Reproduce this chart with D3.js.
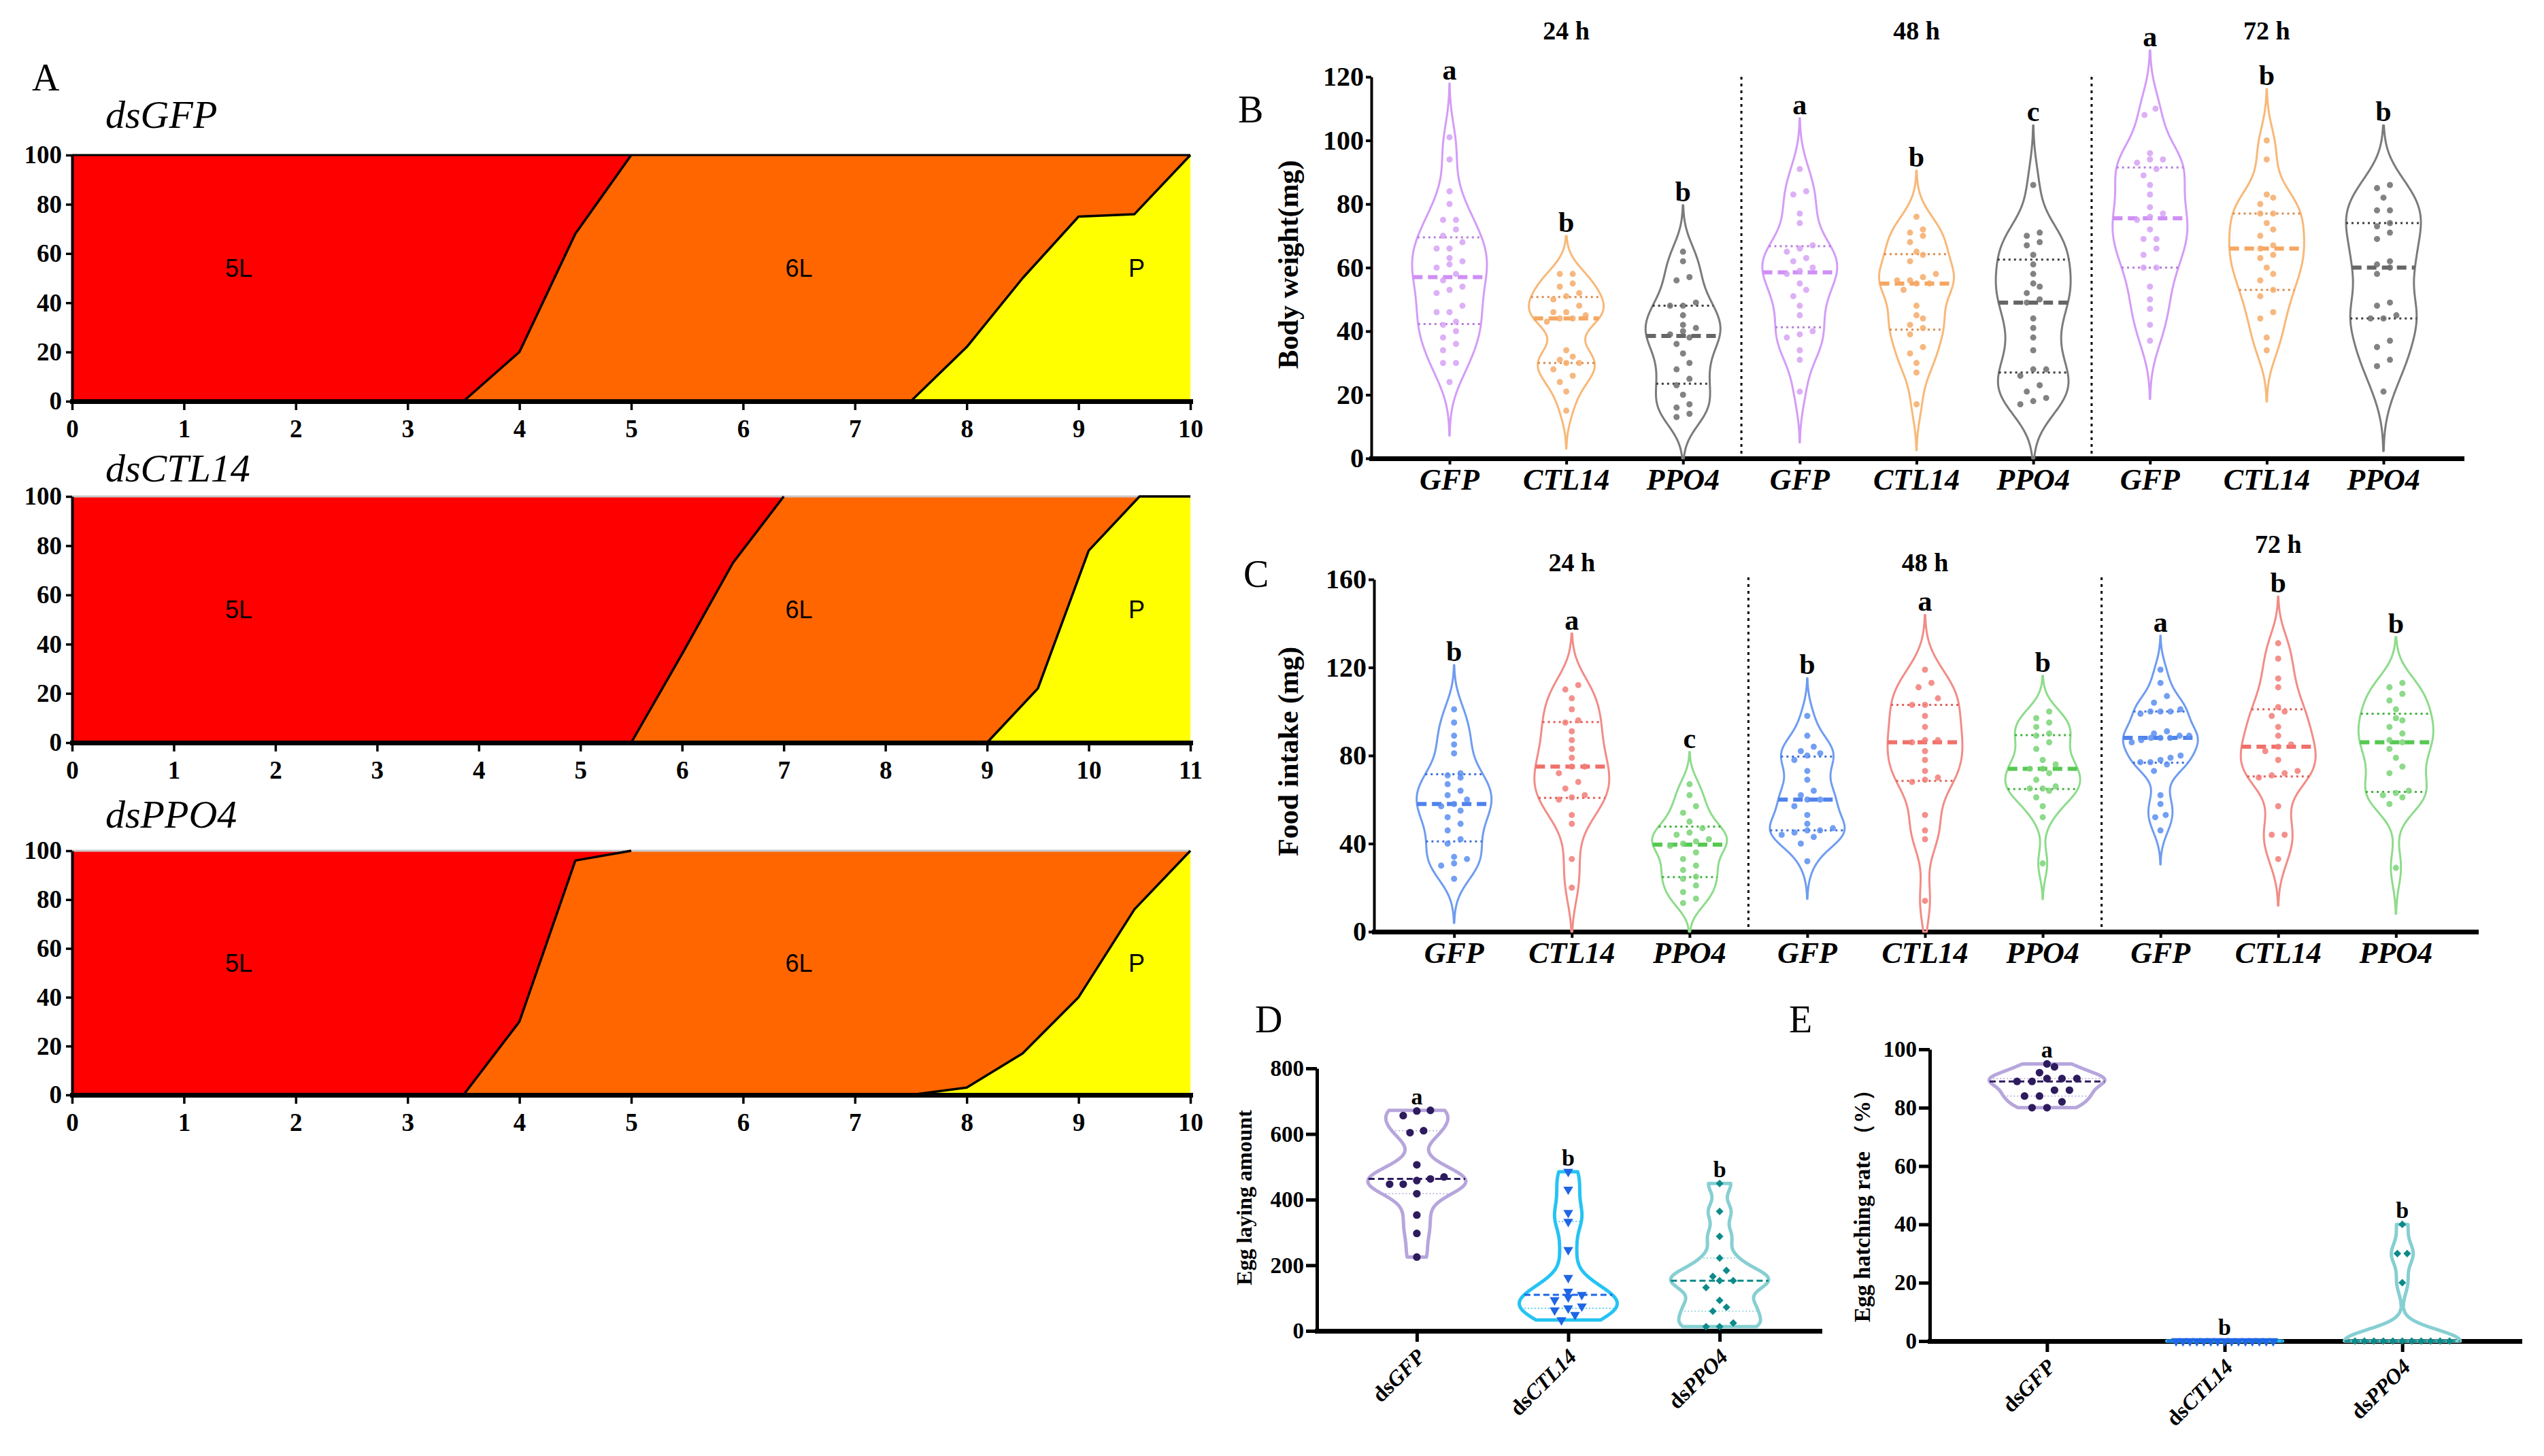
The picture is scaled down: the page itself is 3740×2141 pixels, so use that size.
<!DOCTYPE html>
<html lang="en">
<head>
<meta charset="utf-8">
<script src="https://cdn.jsdelivr.net/npm/d3@7"></script>
<style>
  body { margin: 0; background: #fff; }
  svg text { font-family: "Liberation Serif", "Times New Roman", serif; }
</style>
</head>
<body>
<script>
// ---------- A: stage reached (cumulative %) by day ----------
const devTitles = ["dsGFP", "dsCTL14", "dsPPO4"];
const devMaxDay = [10, 11, 10];
const stageNames = ["5L", "6L", "P"];
const gfpTo6LDay = [3.5, 4, 4.5, 5];
const gfpTo6LPct = [0, 20, 68, 100];
const gfpToPDay = [7.5, 8, 8.5, 9, 9.5, 10];
const gfpToPPct = [0, 22, 50, 75, 76, 100];
const ctlTo6LDay = [5.5, 6, 6.5, 7];
const ctlTo6LPct = [0, 36, 73, 100];
const ctlToPDay = [9, 9.5, 10, 10.5, 11];
const ctlToPPct = [0, 22, 78, 100, 100];
const ppoTo6LDay = [3.5, 4, 4.5, 5];
const ppoTo6LPct = [0, 30, 96, 100];
const ppoToPDay = [7.5, 8, 8.5, 9, 9.5, 10];
const ppoToPPct = [0, 3, 17, 40, 76, 100];

// ---------- B: body weight (mg) ----------
const timeLabels = ["24 h", "48 h", "72 h"];
const geneLabels = ["GFP", "CTL14", "PPO4", "GFP", "CTL14", "PPO4", "GFP", "CTL14", "PPO4"];
const bw24GFP = [101, 94, 84, 80, 75, 75, 72, 70, 68, 66, 66, 63, 62, 61, 60, 58, 56, 54, 53, 52, 48, 46, 46, 43, 42, 40, 38, 36, 34, 30, 30, 24];
const bw24CTL14 = [58, 58, 55, 54, 52, 51, 50, 48, 46, 46, 45, 44, 44, 43, 34, 32, 31, 30, 30, 28, 26, 24, 21, 15];
const bw24PPO4 = [65, 62, 57, 56, 49, 48, 48, 45, 42, 41, 40, 39, 38, 36, 33, 30, 28, 25, 23, 20, 17, 16, 14, 13];
const bw48GFP = [91, 84, 83, 77, 74, 67, 66, 65, 63, 62, 60, 59, 58, 55, 53, 51, 48, 45, 40, 39, 38, 34, 31, 21];
const bw48CTL14 = [76, 72, 71, 70, 68, 65, 64, 62, 58, 57, 56, 56, 55, 55, 53, 48, 45, 44, 42, 41, 39, 35, 33, 30, 27, 17];
const bw48PPO4 = [86, 71, 70, 68, 67, 64, 61, 58, 55, 54, 52, 50, 49, 44, 41, 38, 34, 28, 28, 26, 23, 21, 19, 18, 17];
const bw72GFP = [110, 108, 96, 94, 94, 93, 91, 89, 86, 83, 79, 77, 76, 75, 72, 69, 69, 66, 64, 60, 60, 54, 50, 47, 42, 37];
const bw72CTL14 = [100, 94, 83, 82, 80, 77, 77, 74, 72, 70, 67, 66, 64, 63, 60, 58, 56, 53, 51, 46, 44, 38, 34];
const bw72PPO4 = [86, 85, 82, 78, 78, 74, 73, 71, 69, 62, 61, 60, 58, 49, 48, 45, 44, 44, 37, 35, 31, 29, 21];
const bodySig = ["a", "b", "b", "a", "b", "c", "a", "b", "b"];

// ---------- C: food intake (mg) ----------
const fi24GFP = [101, 95, 89, 85, 81, 72, 70, 71, 67, 64, 62, 60, 58, 57, 55, 52, 49, 46, 42, 40, 34, 33, 31, 30, 24];
const fi24CTL14 = [112, 110, 106, 101, 96, 95, 91, 87, 83, 79, 75, 75, 72, 68, 65, 61, 62, 60, 53, 49, 33, 20];
const fi24PPO4 = [67, 62, 57, 54, 50, 47, 45, 44, 42, 41, 40, 39, 36, 33, 30, 28, 25, 24, 21, 18, 15, 13];
const fi48GFP = [98, 89, 84, 82, 81, 80, 78, 73, 69, 64, 62, 60, 60, 57, 53, 49, 47, 46, 46, 45, 44, 43, 40, 32];
const fi48CTL14 = [119, 113, 111, 106, 103, 103, 98, 93, 87, 87, 86, 82, 78, 73, 70, 69, 68, 53, 46, 42, 14];
const fi48PPO4 = [100, 97, 95, 93, 90, 89, 86, 83, 78, 76, 74, 74, 72, 69, 66, 65, 65, 64, 61, 57, 52, 31];
const fi72GFP = [119, 113, 107, 104, 101, 100, 100, 100, 99, 91, 90, 89, 89, 88, 88, 88, 87, 86, 80, 79, 78, 77, 77, 76, 73, 62, 58, 53, 52, 46];
const fi72CTL14 = [131, 124, 115, 111, 102, 100, 98, 93, 89, 85, 84, 82, 78, 73, 72, 71, 70, 57, 44, 44, 33];
const fi72PPO4 = [113, 111, 108, 105, 101, 97, 96, 93, 90, 87, 86, 83, 79, 75, 72, 64, 63, 62, 61, 58, 29];
const foodSig = ["b", "a", "c", "b", "a", "b", "a", "b", "b"];

// ---------- D / E: egg laying and hatching ----------
const eggGroups = ["GFP", "CTL14", "PPO4"];
const eggLayGFP = [672, 670, 656, 610, 604, 506, 469, 463, 458, 447, 447, 418, 353, 297, 225];
const eggLayCTL14 = [485, 431, 360, 333, 247, 162, 120, 110, 103, 94, 75, 69, 63, 49, 33];
const eggLayPPO4 = [449, 364, 288, 222, 184, 166, 153, 153, 132, 93, 72, 60, 24, 13, 13];
const eggLaySig = ["a", "b", "b"];
const hatchGFP = [95, 94, 92, 90, 90, 90, 89, 89, 86, 86, 84, 84, 82, 80, 80];
const hatchCTL14 = [0, 0, 0, 0, 0, 0, 0, 0, 0, 0, 0, 0, 0, 0, 0];
const hatchPPO4 = [40, 30, 30, 20, 0, 0, 0, 0, 0, 0, 0, 0, 0, 0, 0];
const hatchSig = ["a", "b", "b"];

const SERIF = '"Liberation Serif", "Times New Roman", serif';
const SANS = '"Liberation Sans", Arial, sans-serif';

const svg = d3.select("body").append("svg")
    .attr("width", 3740)
    .attr("height", 2141)
    .style("background", "#fff");

// panel letters
const letters = [["A", 47, 133], ["B", 1820, 180], ["C", 1828, 863], ["D", 1845, 1518], ["E", 2630, 1518]];
svg.selectAll("text.panel")
    .data(letters)
    .enter()
    .append("text")
    .attr("class", "panel")
    .attr("x", d => d[1])
    .attr("y", d => d[2])
    .attr("font-size", 56)
    .text(d => d[0]);

// ===== A =====
const devSeries = [
    [gfpTo6LDay, gfpTo6LPct, gfpToPDay, gfpToPPct],
    [ctlTo6LDay, ctlTo6LPct, ctlToPDay, ctlToPPct],
    [ppoTo6LDay, ppoTo6LPct, ppoToPDay, ppoToPPct]
];
const devBox = [{top: 228, bottom: 590, titleY: 188}, {top: 730, bottom: 1092, titleY: 708}, {top: 1251, bottom: 1610, titleY: 1217}];
const topEdge = ["#000", "#c8c8c8", "#c8c8c8"];
const stageColors = ["#ff0000", "#ff6600", "#ffff00"];
const labelFrac = [0.149, 0.65, 0.952];

devTitles.forEach((title, i) => {
    const maxDay = devMaxDay[i];
    const box = devBox[i];
    const x = d3.scaleLinear().domain([0, maxDay]).range([106, 1750]);
    const y = d3.scaleLinear().domain([0, 100]).range([box.bottom, box.top]);
    const g = svg.append("g");

    const knots = (days, pct) => days.map((d, k) => [d, pct[k]]);
    const filled = pts => {
        let out = pts.slice();
        if (out[0][0] > 0) out.unshift([0, 0]);
        if (out[out.length - 1][0] < maxDay) out.push([maxDay, 100]);
        return out;
    };
    const area = d3.area().x(d => x(d[0])).y0(y(0)).y1(d => y(d[1]));
    const line = d3.line().x(d => x(d[0])).y(d => y(d[1]));
    const s = devSeries[i];
    const six = knots(s[0], s[1]);
    const pup = knots(s[2], s[3]);

    g.append("path").datum([[0, 100], [maxDay, 100]]).attr("d", area).attr("fill", stageColors[0]);
    g.append("path").datum(filled(six)).attr("d", area).attr("fill", stageColors[1]);
    g.append("path").datum(filled(pup)).attr("d", area).attr("fill", stageColors[2]);

    g.append("line")
        .attr("x1", x(0)).attr("x2", x(maxDay))
        .attr("y1", y(100)).attr("y2", y(100))
        .attr("stroke", topEdge[i]).attr("stroke-width", 3);

    [six, pup].forEach(pts => {
        g.append("path").datum(pts).attr("d", line)
            .attr("fill", "none").attr("stroke", "#000").attr("stroke-width", 3.5)
            .attr("stroke-linejoin", "round");
    });

    const frac = d3.scaleLinear().range(x.range());
    g.selectAll("text.stage")
        .data(stageNames)
        .enter()
        .append("text")
        .attr("class", "stage")
        .attr("x", (d, k) => frac(labelFrac[k]))
        .attr("y", y(54))
        .attr("dy", "0.35em")
        .attr("text-anchor", "middle")
        .style("font-family", SANS)
        .attr("font-size", 36)
        .text(d => d);

    const yAxis = g.append("g")
        .attr("transform", "translate(" + x(0) + ",0)")
        .call(d3.axisLeft(y).tickValues([0, 20, 40, 60, 80, 100]).tickSize(9).tickSizeOuter(0).tickPadding(6));
    const xAxis = g.append("g")
        .attr("transform", "translate(0," + y(0) + ")")
        .call(d3.axisBottom(x).ticks(maxDay).tickFormat(d3.format("d")).tickSize(13).tickSizeOuter(0).tickPadding(14));
    yAxis.select(".domain").attr("stroke-width", 4);
    xAxis.select(".domain").attr("stroke-width", 7).attr("stroke-linecap", "square");
    [yAxis, xAxis].forEach(a => {
        a.selectAll(".tick line").attr("stroke-width", 3.5);
        a.selectAll("text").style("font-family", SERIF).attr("font-size", 37).attr("font-weight", "bold");
    });

    g.append("text")
        .attr("x", 155).attr("y", box.titleY)
        .attr("font-size", 58).attr("font-style", "italic")
        .text(title);
});

// ===== violin panels =====
function prismQ(sorted, p) {
    const n = sorted.length;
    const pos = (n + 1) * p;
    if (pos <= 1) return sorted[0];
    if (pos >= n) return sorted[n - 1];
    const lo = Math.floor(pos);
    return sorted[lo - 1] + (pos - lo) * (sorted[lo] - sorted[lo - 1]);
}

function violinPanel(o) {
    const g = svg.append("g");
    const axisLayer = g.append("g");
    const markLayer = g.append("g");
    const y = d3.scaleLinear().domain(o.yDomain).range(o.yRange);
    const x = d3.scalePoint().domain(o.data.map((d, i) => i)).range(o.xRange).padding(o.pad);

    o.data.forEach((vals, i) => {
        const cx = x(i);
        const c = i % 3;
        const s = vals.slice().sort(d3.ascending);
        const sd = d3.deviation(s) || 0;
        const iqr = (d3.quantile(s, 0.75) - d3.quantile(s, 0.25)) / 1.34;
        const bw = 0.9 * (iqr > 0 ? Math.min(sd, iqr) : sd) * Math.pow(s.length, -0.2) * o.bwK;
        let lo = s[0], hi = s[s.length - 1];
        if (!o.trunc && bw > 0) {
            lo = Math.max(o.yDomain[0], lo - o.ext * bw);
            hi = hi + o.ext * bw;
        }
        const grid = d3.range(201).map(k => lo + (hi - lo) * k / 200);
        const dAt = v => bw > 0 ? d3.sum(s, t => Math.exp(-0.5 * ((v - t) / bw) ** 2)) : 1;
        const dmax = d3.max(grid, dAt);
        const half = v => o.maxHalf * dAt(v) / dmax;

        markLayer.append("path")
            .datum(grid)
            .attr("d", d3.area().y(v => y(v)).x0(v => cx - half(v)).x1(v => cx + half(v)))
            .attr("fill", "none")
            .attr("stroke", o.violin[c])
            .attr("stroke-width", o.vStroke)
            .attr("stroke-linejoin", "round");

        [0.25, 0.75].forEach(p => {
            const v = prismQ(s, p);
            markLayer.append("line")
                .attr("x1", cx - half(v)).attr("x2", cx + half(v))
                .attr("y1", y(v)).attr("y2", y(v))
                .attr("stroke", o.quart[c]).attr("stroke-width", o.qW)
                .attr("stroke-dasharray", o.qDash);
        });
        const med = prismQ(s, 0.5);
        markLayer.append("line")
            .attr("x1", cx - half(med)).attr("x2", cx + half(med))
            .attr("y1", y(med)).attr("y2", y(med))
            .attr("stroke", o.median[c]).attr("stroke-width", o.mW)
            .attr("stroke-dasharray", o.mDash);

        // spread dots sideways within bins of similar value
        const pts = s.map(v => ({v: v, py: y(v)})).sort((a, b) => b.py - a.py);
        const placed = [];
        let bin = [];
        const flush = () => {
            const k = bin.length;
            const lim = Math.max(2 * half(bin[0].v) * 0.9, o.spacing) / k;
            const sp = Math.min(o.spacing, lim);
            bin.forEach((p, j) => placed.push({v: p.v, dx: (j - (k - 1) / 2) * sp}));
            bin = [];
        };
        pts.forEach(p => {
            if (bin.length && Math.abs(p.py - bin[0].py) > o.binPx) flush();
            bin.push(p);
        });
        flush();

        const shape = o.shapes[c];
        markLayer.selectAll(null)
            .data(placed)
            .enter()
            .append("path")
            .attr("d", d3.symbol().type(shape.type).size(shape.size || o.dotSize))
            .attr("transform", d => "translate(" + (cx + d.dx) + "," + y(d.v) + ") rotate(" + shape.rot + ")")
            .attr("fill", o.dots[c])
            .attr("fill-opacity", o.dotOpacity);

        markLayer.append("text")
            .attr("x", cx).attr("y", y(hi) - o.sigGap)
            .attr("text-anchor", "middle")
            .attr("font-weight", "bold")
            .attr("font-size", o.sigSize)
            .text(o.sig[i]);
    });

    if (o.groups) {
        [2.5, 5.5].forEach(b => {
            const sx = (x(Math.floor(b)) + x(Math.ceil(b))) / 2;
            axisLayer.append("line")
                .attr("x1", sx).attr("x2", sx)
                .attr("y1", o.sepTop).attr("y2", o.yRange[0])
                .attr("stroke", "#000").attr("stroke-width", 3)
                .attr("stroke-dasharray", "4,6");
        });
        o.groups.forEach((t, k) => {
            axisLayer.append("text")
                .attr("x", x(k * 3 + 1)).attr("y", o.groupY[k])
                .attr("text-anchor", "middle")
                .attr("font-weight", "bold")
                .attr("font-size", 38)
                .text(t);
        });
    }

    const yAxis = axisLayer.append("g")
        .attr("transform", "translate(" + o.xRange[0] + ",0)")
        .call(d3.axisLeft(y).tickValues(o.yTicks).tickSize(o.yTick).tickSizeOuter(0).tickPadding(3));
    const xAxis = axisLayer.append("g")
        .attr("transform", "translate(0," + o.yRange[0] + ")")
        .call(d3.axisBottom(x).tickSize(o.xTick).tickSizeOuter(0).tickFormat(() => ""));
    yAxis.select(".domain").attr("stroke-width", o.yAxisW);
    xAxis.select(".domain").attr("stroke-width", o.xAxisW).attr("stroke-linecap", "square");
    yAxis.selectAll(".tick line").attr("stroke-width", o.yAxisW);
    xAxis.selectAll(".tick line").attr("stroke-width", o.yAxisW);
    yAxis.selectAll("text").style("font-family", SERIF).attr("font-size", o.tickSize).attr("font-weight", "bold");

    if (o.rotate) {
        o.cats.forEach((t, i) => {
            const tx = axisLayer.append("text")
                .attr("transform", "translate(" + (x(i) + 14) + "," + (o.yRange[0] + 40) + ") rotate(-45)")
                .attr("text-anchor", "end")
                .attr("font-weight", "bold")
                .attr("font-size", o.catSize);
            tx.append("tspan").text("ds");
            tx.append("tspan").attr("font-style", "italic").text(t);
        });
    } else {
        o.cats.forEach((t, i) => {
            axisLayer.append("text")
                .attr("x", x(i)).attr("y", o.yRange[0] + o.catDy)
                .attr("text-anchor", "middle")
                .attr("font-weight", "bold")
                .attr("font-style", "italic")
                .attr("font-size", o.catSize)
                .text(t);
        });
    }

    axisLayer.append("text")
        .attr("transform", "translate(" + o.yLabelPos[0] + "," + o.yLabelPos[1] + ") rotate(-90)")
        .attr("dy", "0.35em")
        .attr("text-anchor", "middle")
        .attr("font-weight", "bold")
        .attr("font-size", o.yLabelSize)
        .text(o.yLabel);
}

const circle = {type: d3.symbolCircle, rot: 0};
const triDown = {type: d3.symbolTriangle, rot: 180, size: 90};
const diamond = {type: d3.symbolDiamond2 || d3.symbolDiamond, rot: 0, size: 80};

const smallViolin = {
    trunc: false, bwK: 0.8, ext: 2.5, maxHalf: 55, vStroke: 3,
    mW: 6, mDash: "14,8", qW: 3, qDash: "3,5",
    shapes: [circle, circle, circle], dotSize: 64, dotOpacity: 0.85,
    binPx: 11, spacing: 19, sigGap: 6, sigSize: 42,
    yTick: 8, xTick: 9, yAxisW: 4, xAxisW: 7, tickSize: 40,
    catSize: 44, catDy: 46, yLabelSize: 42, groups: timeLabels
};

violinPanel(Object.assign({}, smallViolin, {
    data: [bw24GFP, bw24CTL14, bw24PPO4, bw48GFP, bw48CTL14, bw48PPO4, bw72GFP, bw72CTL14, bw72PPO4],
    cats: geneLabels, sig: bodySig,
    yDomain: [0, 120], yRange: [674, 113], yTicks: [0, 20, 40, 60, 80, 100, 120],
    xRange: [2016, 3619], pad: 0.67,
    violin: ["#d49cf7", "#f8b878", "#7b7b7b"],
    dots: ["#d6a2f5", "#f5ac6a", "#6c6c6c"],
    median: ["#cf8ff5", "#f6a662", "#666666"],
    quart: ["#b67fd9", "#d98c4e", "#3c3c3c"],
    sepTop: 113, groupY: [58, 58, 58],
    yLabel: "Body weight(mg)", yLabelPos: [1893, 389]
}));

violinPanel(Object.assign({}, smallViolin, {
    data: [fi24GFP, fi24CTL14, fi24PPO4, fi48GFP, fi48CTL14, fi48PPO4, fi72GFP, fi72CTL14, fi72PPO4],
    cats: geneLabels, sig: foodSig,
    yDomain: [0, 160], yRange: [1370, 852], yTicks: [0, 40, 80, 120, 160],
    xRange: [2020, 3640], pad: 0.68,
    violin: ["#6f9cf0", "#f28c86", "#8ddc8a"],
    dots: ["#5b8ef0", "#f27d77", "#78d475"],
    median: ["#4f82ec", "#f0706a", "#55c851"],
    quart: ["#3f6fd6", "#e06058", "#44b040"],
    sepTop: 849, groupY: [840, 840, 813],
    yLabel: "Food intake (mg)", yLabelPos: [1893, 1105]
}));

const bigViolin = {
    trunc: true, ext: 0, vStroke: 5,
    mW: 3, mDash: "9,5", qW: 1.5, qDash: "2,3",
    shapes: [circle, triDown, diamond], dotSize: 100, dotOpacity: 1,
    binPx: 12, sigGap: 9, sigSize: 34,
    yTick: 16, xTick: 16, yAxisW: 5, xAxisW: 7, tickSize: 33,
    catSize: 32, rotate: true, yLabelSize: 32,
    violin: ["#b6a6dc", "#25c3f3", "#86cfd2"],
    dots: ["#2d1b5e", "#1f66e5", "#0d8a8a"],
    median: ["#2d1b5e", "#1f66e5", "#0d8a8a"],
    quart: ["#b6a6dc", "#25c3f3", "#86cfd2"]
};

violinPanel(Object.assign({}, bigViolin, {
    data: [eggLayGFP, eggLayCTL14, eggLayPPO4],
    cats: eggGroups, sig: eggLaySig, bwK: 0.55, maxHalf: 72, spacing: 20,
    yDomain: [0, 800], yRange: [1957, 1571], yTicks: [0, 200, 400, 600, 800],
    xRange: [1936, 2675], pad: 0.66,
    yLabel: "Egg laying amount", yLabelPos: [1829, 1761]
}));

violinPanel(Object.assign({}, bigViolin, {
    data: [hatchGFP, hatchCTL14, hatchPPO4],
    cats: eggGroups, sig: hatchSig, bwK: 1.0, maxHalf: 85, spacing: 22,
    yDomain: [0, 100], yRange: [1972, 1543], yTicks: [0, 20, 40, 60, 80, 100],
    xRange: [2837, 3704], pad: 0.66,
    yLabel: "Egg hatching rate （%）", yLabelPos: [2737, 1765], yLabelSize: 33
}));
</script>
</body>
</html>
